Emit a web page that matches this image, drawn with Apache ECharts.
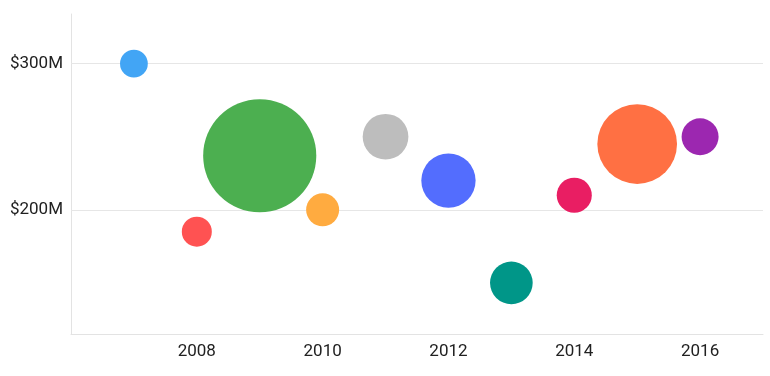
<!DOCTYPE html>
<html>
<head>
<meta charset="utf-8">
<script src="https://cdn.jsdelivr.net/npm/echarts@6/dist/echarts.min.js"></script>
<style>html,body{margin:0;padding:0;background:#fff;}#c{width:770px;height:376px;}</style>
</head>
<body>
<div id="c"></div>
<script>
var years = [2007, 2008, 2009, 2010, 2011, 2012, 2013, 2014, 2015, 2016];
var revenue = [300, 185, 237, 200, 250, 220, 150, 210, 245, 250]; // $M
var weight = [7.7, 9, 128, 10.9, 20.9, 29.5, 18.2, 12.3, 63.5, 13.7];
var colors = ['#42A5F5', '#FF5252', '#4CAF50', '#FFAB40', '#BDBDBD', '#536DFE', '#009688', '#E91E63', '#FF7043', '#9C27B0'];
var yTicks = [200, 300];

var data = years.map(function (y, i) {
  return { value: [y, revenue[i], weight[i]], itemStyle: { color: colors[i], opacity: 1 } };
});

var chart = echarts.init(document.getElementById('c'), null, { renderer: 'canvas' });
chart.setOption({
  animation: false,
  grid: { left: 71, right: 7, top: 14, bottom: 42, containLabel: false },
  xAxis: {
    type: 'value', min: 2006, max: 2017, interval: 2,
    axisLine: { show: true, lineStyle: { color: '#e3e3e3', width: 1 } },
    axisTick: { show: false },
    splitLine: { show: false },
    axisLabel: {
      fontFamily: 'Roboto', fontSize: 17, color: '#212121', margin: 9,
      formatter: function (v) { return (v > 2006 && v < 2017) ? String(v) : ''; }
    }
  },
  yAxis: {
    type: 'value', min: 115, max: 334, interval: 5,
    axisLine: { show: true, lineStyle: { color: '#e3e3e3', width: 1 } },
    axisTick: { show: false },
    splitLine: { show: false },
    axisLabel: {
      fontFamily: 'Roboto', fontSize: 17, color: '#212121', margin: 8,
      formatter: function (v) {
        var r = Math.round(v);
        return yTicks.indexOf(r) >= 0 && Math.abs(v - r) < 1e-6 ? '$' + r + 'M' : '';
      }
    }
  },
  series: [{
    type: 'scatter',
    data: data,
    z: 3,
    symbolSize: function (v) { return Math.sqrt(v[2]) * 10; },
    markLine: {
      silent: true, symbol: 'none', animation: false,
      label: { show: false },
      lineStyle: { color: '#e6e6e6', width: 1, type: 'solid' },
      z: 1,
      data: yTicks.map(function (t) { return { yAxis: t }; })
    }
  }]
});
</script>
</body>
</html>
